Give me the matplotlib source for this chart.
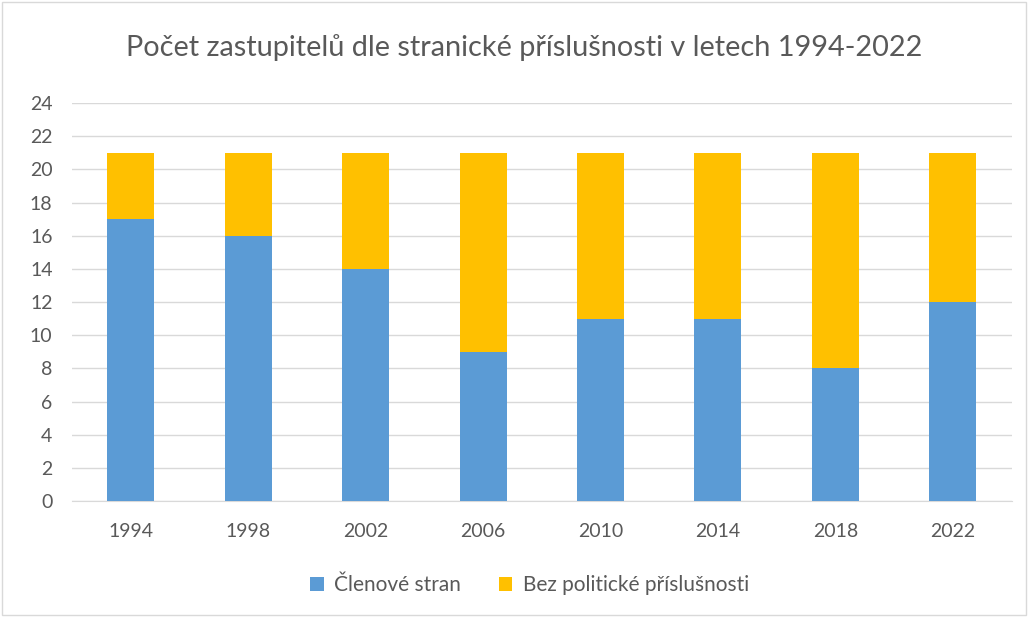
import matplotlib.pyplot as plt
from matplotlib.patches import Rectangle

years = ["1994", "1998", "2002", "2006", "2010", "2014", "2018", "2022"]
clenove_stran = [17, 16, 14, 9, 11, 11, 8, 12]
bez_prislusnosti = [4, 5, 7, 12, 10, 10, 13, 9]

blue = "#5B9BD5"
gold = "#FFC000"
text_gray = "#595959"

plt.rcParams["font.family"] = ["Lato", "DejaVu Sans"]

fig = plt.figure(figsize=(10.28, 6.17), dpi=100)
ax = fig.add_axes([0.070, 0.188, 0.914, 0.645])

x = range(len(years))
ax.bar(x, clenove_stran, width=0.4, color=blue, label="Členové stran", zorder=3)
ax.bar(x, bez_prislusnosti, width=0.4, bottom=clenove_stran, color=gold,
       label="Bez politické příslušnosti", zorder=3)

ax.set_xlim(-0.5, len(years) - 0.5)
ax.set_ylim(0, 24)
ax.set_yticks(range(0, 25, 2))
ax.set_xticks(list(x))
ax.set_xticklabels(years)
ax.yaxis.grid(True, color="#D9D9D9", linewidth=1, zorder=0)
ax.tick_params(axis="both", length=0, labelsize=14, colors=text_gray)
ax.tick_params(axis="x", pad=16)
ax.tick_params(axis="y", pad=14)
for side in ["top", "right", "left"]:
    ax.spines[side].set_visible(False)
ax.spines["bottom"].set_color("#D9D9D9")

fig.suptitle("Počet zastupitelů dle stranické příslušnosti v letech 1994-2022",
             x=0.51, y=0.945, fontsize=20.8, color=text_gray)

fig.legend(loc="center", bbox_to_anchor=(0.515, 0.052), ncol=2, frameon=False,
           fontsize=15, labelcolor=text_gray, handlelength=0.65, handleheight=0.65,
           columnspacing=1.8, handletextpad=0.5)

# light frame around the whole chart
fig.patches.append(Rectangle((0.002, 0.003), 0.996, 0.994, transform=fig.transFigure,
                             fill=False, edgecolor="#D9D9D9", linewidth=1))

fig.savefig("out.png", dpi=100)
